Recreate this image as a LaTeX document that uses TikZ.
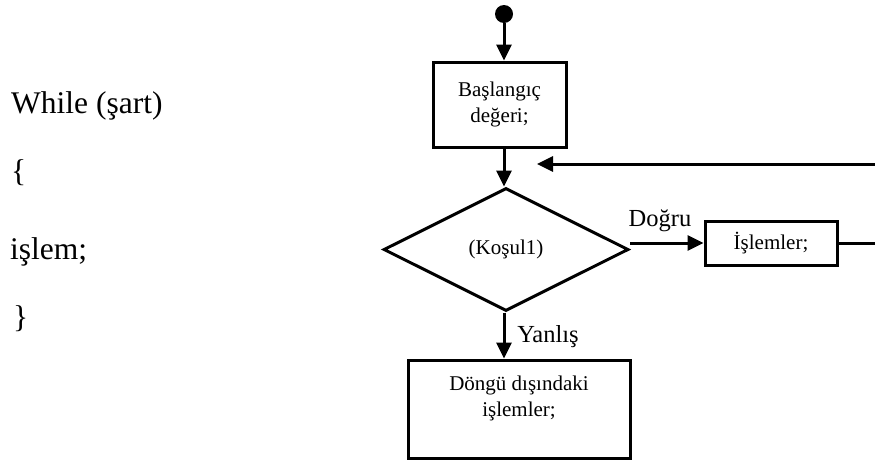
\documentclass[tikz,border=0pt]{standalone}
\usepackage{fontspec}
\setmainfont{Liberation Serif}
\usetikzlibrary{arrows.meta,shapes.geometric}
\begin{document}
\begin{tikzpicture}[x=1pt,y=-1pt,
  conn/.style={line width=3pt},
  arr/.style={conn,-{Triangle[length=16pt,width=15pt]}},
  box/.style={draw,line width=3pt,inner sep=0pt,align=center,
    font=\fontsize{21}{26}\selectfont},
  lbl/.style={inner sep=0pt,font=\fontsize{24.5}{28}\selectfont},
  code/.style={anchor=base west,inner sep=0pt,font=\fontsize{31.5}{36}\selectfont}]
\useasboundingbox (0,0) rectangle (875,461);

% pseudo-code on the left
\node[code] (c1) at (11,113) {While (şart)};
\node[code] (c2) at (11,181) {\{};
\node[code] (c3) at (10,259) {işlem;};
\node[code] (c4) at (13,327) {\}};

% flowchart
\node[circle,fill,inner sep=0pt,minimum size=18pt] (start) at (504,14) {};
\node[box,minimum width=133pt,minimum height=85pt] (init) at (499.5,104.5)
  {Başlangıç\\değeri;};
\node[draw,diamond,line width=3pt,inner sep=0pt,minimum width=245pt,
  minimum height=123pt,font=\fontsize{21}{26}\selectfont] (cond) at (506,249.5) {(Koşul1)};
\node[box,minimum width=132pt,minimum height=44pt] (body) at (771,243) {İşlemler;};
\node[box,minimum width=222pt,minimum height=98pt] (after) at (519,409)
  {Döngü dışındaki\\işlemler;\\\mbox{}};

\coordinate (bodyout) at (877,243);
\coordinate (loopin) at (877,164);
\coordinate (looptip) at (537,164);

\draw[arr] (start.south -| 504,0) -- (init.north -| 504,0);
\draw[arr] (init.south -| 504,0) -- (cond.north -| 504,0);
\draw[arr] (cond.east |- body.west) -- (body.west);
\draw[arr] (cond.south -| 504,0) -- (after.north -| 504,0);
\draw[conn] (body.east) -- (bodyout);
\draw[arr] (loopin) -- (looptip);

\node[lbl] (yes) at (660,221) {Doğru};
\node[lbl] (no) at (548,337) {Yanlış};
\end{tikzpicture}
\end{document}
